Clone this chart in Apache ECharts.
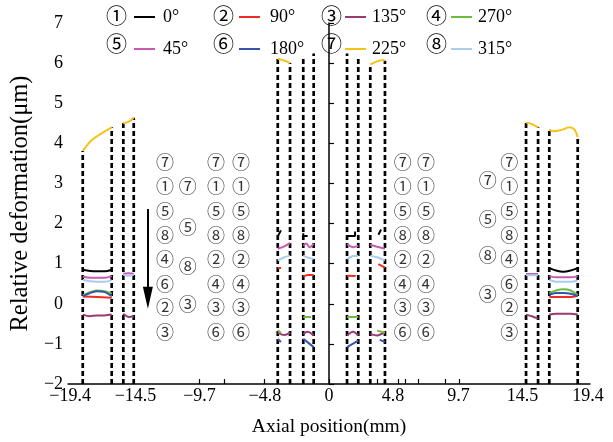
<!DOCTYPE html>
<html><head><meta charset="utf-8">
<script src="https://cdn.jsdelivr.net/npm/echarts@6.0.0/dist/echarts.min.js"></script>
<style>html,body{margin:0;padding:0;background:#fff}#c{width:613px;height:442px}</style>
</head><body><div id="c"></div>
<script>
// ---- axis ticks / labels ----
const xLabelVals = [-19.4, -14.5, -9.7, -4.8, 0, 4.8, 9.7, 14.5, 19.4];
const xLabelText = ['−19.4', '−14.5', '−9.7', '−4.8', '0', '4.8', '9.7', '14.5', '19.4'];
const xTickVals = [-9.7, -7.85, -4.85, 0, 3.65, 5.15, 5.7, 6.65, 8.7, 9.75];
const yLabelText = {'-2':'−2','-1':'−1','0':'0','1':'1','2':'2','3':'3','4':'4','5':'5','6':'6','7':'7'};

// ---- dashed boundary lines (x position, top value) ----
const lineX   = [-18.45, -16.28, -15.41, -14.63, -3.84, -2.92, -1.93, -1.15, 1.35, 2.19, 3.09, 4.19, 14.76, 15.66, 16.50, 18.63];
const lineTop = [3.81, 4.40, 4.50, 4.64, 6.11, 6.00, 6.14, 6.24, 6.24, 6.14, 5.97, 6.06, 4.52, 4.40, 4.34, 4.15];

// ---- series: segments of [axial position, deformation] ----
const deg0 = [
  [[-18.45,0.85],[-17.9,0.82],[-17.4,0.81],[-16.8,0.81],[-16.28,0.85]],
  [[-3.84,1.68],[-3.6,1.83]],
  [[-1.93,1.76],[-1.93,1.69],[-1.6,1.69]],
  [[1.35,1.69],[1.95,1.69],[1.95,1.8]],
  [[3.7,1.72],[3.9,1.85]],
  [[16.5,0.89],[17.0,0.83],[17.55,0.80],[18.1,0.83],[18.63,0.89]]
];
const deg90 = [
  [[-18.45,0.18],[-17.4,0.17],[-16.28,0.15]],
  [[-3.84,0.89],[-3.6,0.89]],
  [[-1.93,0.68],[-1.6,0.72],[-1.15,0.72]],
  [[1.35,0.70],[2.0,0.69]],
  [[3.7,0.99],[4.19,0.90]],
  [[16.5,0.17],[17.55,0.17],[18.1,0.17],[18.63,0.20]]
];
const deg135 = [
  [[-18.45,-0.27],[-17.9,-0.31],[-17.4,-0.29],[-16.8,-0.29],[-16.28,-0.27]],
  [[-15.41,-0.25],[-15.0,-0.33],[-14.63,-0.31]],
  [[-3.84,-0.72],[-3.35,-0.78],[-2.92,-0.72]],
  [[-1.93,-0.75],[-1.6,-0.70],[-1.15,-0.79]],
  [[1.35,-0.79],[1.8,-0.70],[2.19,-0.79]],
  [[3.09,-0.75],[3.6,-0.79],[4.19,-0.70]],
  [[14.76,-0.27],[15.2,-0.31],[15.66,-0.37]],
  [[16.5,-0.27],[17.0,-0.25],[17.55,-0.25],[18.1,-0.25],[18.63,-0.27]]
];
const deg270 = [
  [[-18.45,0.21],[-17.9,0.29],[-17.4,0.33],[-16.8,0.31],[-16.28,0.25]],
  [[-3.84,-0.66],[-3.6,-0.73]],
  [[-1.93,-0.33],[-1.35,-0.33]],
  [[1.35,-0.33],[2.19,-0.33]],
  [[3.6,-0.67],[4.19,-0.72]],
  [[16.5,0.27],[17.0,0.33],[17.55,0.36],[18.1,0.33],[18.63,0.21]]
];
const deg45 = [
  [[-18.45,0.68],[-17.9,0.65],[-17.4,0.65],[-16.8,0.65],[-16.28,0.69]],
  [[-15.41,0.75],[-15.0,0.76],[-14.63,0.75]],
  [[-3.84,1.37],[-3.35,1.43],[-2.92,1.52]],
  [[-1.93,1.45],[-1.7,1.50],[-1.45,1.41],[-1.15,1.50]],
  [[1.35,1.49],[1.8,1.41],[2.19,1.45]],
  [[3.09,1.47],[3.6,1.42],[4.19,1.37]],
  [[14.76,0.74],[15.2,0.74],[15.66,0.74]],
  [[16.5,0.69],[17.0,0.66],[17.55,0.66],[18.1,0.66],[18.63,0.69]]
];
const deg180 = [
  [[-18.45,0.19],[-17.9,0.27],[-17.4,0.31],[-16.8,0.29],[-16.28,0.19]],
  [[-3.84,-0.88],[-3.6,-0.95]],
  [[-1.93,-0.87],[-1.15,-1.08]],
  [[1.35,-1.08],[2.19,-0.92]],
  [[3.8,-0.90],[4.19,-0.95]],
  [[16.5,0.23],[17.0,0.27],[17.55,0.27],[18.1,0.25],[18.63,0.19]]
];
const deg225 = [
  [[-18.45,3.81],[-17.7,4.10],[-16.28,4.40]],
  [[-15.41,4.50],[-15.0,4.54],[-14.63,4.64]],
  [[-3.84,6.11],[-3.22,6.05],[-2.92,6.00]],
  [[3.09,5.97],[3.5,6.03],[4.0,6.08],[4.19,6.06]],
  [[14.76,4.52],[15.2,4.48],[15.66,4.40]],
  [[16.5,4.34],[16.76,4.30],[17.39,4.33],[18.01,4.40],[18.39,4.34],[18.63,4.15]]
];
const deg315 = [
  [[-18.45,0.60],[-17.9,0.56],[-17.4,0.55],[-16.8,0.55],[-16.28,0.59]],
  [[-15.41,0.72],[-15.0,0.70],[-14.63,0.72]],
  [[-3.84,1.08],[-3.35,1.16],[-2.92,1.20]],
  [[-1.93,1.20],[-1.5,1.14],[-1.15,1.12]],
  [[1.35,1.12],[1.8,1.19],[2.19,1.20]],
  [[3.09,1.20],[3.6,1.16],[4.19,1.08]],
  [[14.76,0.71],[15.2,0.71],[15.66,0.71]],
  [[16.5,0.60],[17.0,0.55],[17.55,0.55],[18.1,0.55],[18.63,0.58]]
];

// ---- circled-number annotation columns ----
const colLabelsA = ['⑦','①','⑤','⑧','④','⑥','②','③'];
const colLabelsB = ['⑦','⑤','⑧','③'];
const colLabelsC = ['⑦','①','⑤','⑧','②','④','③','⑥'];
const colLabelsG = ['⑦','⑤','⑧','③'];
const rowY8 = [3.54, 2.94, 2.32, 1.70, 1.12, 0.50, -0.08, -0.70];
const rowYB = [2.94, 1.91, 0.95, 0.0];
const rowYG = [3.07, 2.11, 1.20, 0.25];
const colXA = -12.28, colXB = -10.58, colXC = -8.46, colXD = -6.59;
const colXE = 5.52, colXF = 7.27, colXG = 11.89, colXH = 13.51;
const arrowFrom = [-13.57, 2.36], arrowTo = [-13.57, 0.15];

// legend: name, circled number, color
const names   = ['0°','90°','135°','270°','45°','180°','225°','315°'];
const marks   = ['①','②','③','④','⑤','⑥','⑦','⑧'];
const colors  = ['#000000','#ee2b24','#9a3a70','#6cbd3e','#c75ab3','#3553a8','#f6c21a','#a8cdee'];
const seriesData = [deg0, deg90, deg135, deg270, deg45, deg180, deg225, deg315];

function joinSegs(segs){
  const out = [];
  segs.forEach((s,i)=>{ if(i) out.push([null,null]); s.forEach(p=>out.push(p)); });
  return out;
}
const dashData = [];
lineX.forEach((x,i)=>{ if(i) dashData.push([null,null]); dashData.push([x,-2]); dashData.push([x,lineTop[i]]); });

function col(x, labels, ys){ return labels.map((l,i)=>({value:[x, ys[i]], name:l})); }
const annData = [].concat(
  col(colXA, colLabelsA, rowY8), col(colXB, colLabelsB, rowYB),
  col(colXC, colLabelsC, rowY8), col(colXD, colLabelsC, rowY8),
  col(colXE, colLabelsC, rowY8), col(colXF, colLabelsC, rowY8),
  col(colXG, colLabelsG, rowYG), col(colXH, colLabelsA, rowY8)
);

const serif = '"Liberation Serif","Times New Roman",serif';
const cjk = '"Noto Sans CJK SC","DejaVu Sans",sans-serif';

const series = [{
  type:'line', name:'dash', data:dashData, symbol:'none', silent:true, z:1,
  lineStyle:{color:'#000', width:2.7, type:[5,3]}, connectNulls:false
}];
names.forEach((n,i)=>{
  series.push({type:'line', name:n, data:joinSegs(seriesData[i]), symbol:'none', smooth:0.3,
    connectNulls:false, z:3, color:colors[i], lineStyle:{color:colors[i], width:2}});
});
series.push({
  type:'scatter', name:'ann', data:annData, symbolSize:0, silent:true, z:4,
  label:{show:true, position:'inside', formatter:'{b}', color:'#000', fontFamily:cjk, fontSize:18},
  markLine:{silent:true, symbol:['none','triangle'], symbolSize:[10,22], label:{show:false},
    lineStyle:{color:'#000', width:2, type:'solid'},
    data:[[{coord:arrowFrom},{coord:arrowTo}]]}
});

const legendCols = [[0,4,133,3],[1,5,238,5],[2,6,344,1],[3,7,450,1]];
const legends = legendCols.map(c=>({
  data:[names[c[0]], names[c[1]]], orient:'vertical', left:c[2], top:8, padding:0,
  itemWidth:21, itemHeight:14, itemGap:14, selectedMode:false,
  itemStyle:{opacity:0}, lineStyle:{width:2},
  textStyle:{fontFamily:serif, fontSize:18, color:'#000', padding:[0,0,0,c[3]]}
}));
const legendMarkX = [116.5, 223.5, 331.5, 436.5];
const graphic = [];
marks.forEach((m,i)=>{
  graphic.push({type:'text', x:legendMarkX[i%4], y:i<4?15:43, silent:true,
    style:{text:m, font:'21px '+cjk, fill:'#000', align:'center', verticalAlign:'middle'}});
});

const chart = echarts.init(document.getElementById('c'), null, {renderer:'canvas'});
chart.setOption({
  animation:false,
  backgroundColor:'#fff',
  grid:{left:67, right:23, top:23, bottom:57},
  legend:legends,
  graphic:graphic,
  xAxis:{type:'value', min:-19.55, max:19.55,
    name:'Axial position(mm)', nameLocation:'middle', nameGap:33,
    nameTextStyle:{fontFamily:serif, fontSize:19.5, color:'#000'},
    axisLine:{onZero:false, lineStyle:{color:'#000', width:1.5}},
    axisTick:{inside:true, length:5, customValues:xTickVals, lineStyle:{color:'#000', width:1.2}},
    axisLabel:{customValues:xLabelVals, margin:3, fontFamily:serif, fontSize:18, color:'#000',
      formatter:v=>{const k=xLabelVals.findIndex(t=>Math.abs(t-v)<1e-6); return k>=0?xLabelText[k]:'';}},
    splitLine:{show:false}},
  yAxis:{type:'value', min:-2, max:7, interval:1,
    name:'Relative deformation(μm)', nameLocation:'middle', nameGap:28, nameRotate:90,
    nameTextStyle:{fontFamily:serif, fontSize:24.5, color:'#000'},
    axisLine:{show:true, lineStyle:{color:'#000', width:1.5}},
    axisTick:{show:true, inside:true, length:5, lineStyle:{color:'#000', width:1.2}},
    axisLabel:{margin:5, fontFamily:serif, fontSize:18, color:'#000', formatter:v=>yLabelText[String(v)]},
    splitLine:{show:false}},
  series:series
});
</script></body></html>
